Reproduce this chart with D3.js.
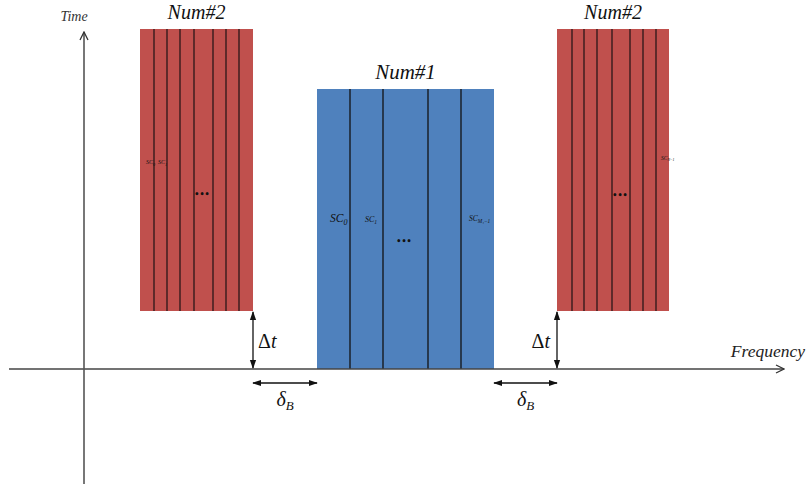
<!DOCTYPE html>
<html><head><meta charset="utf-8">
<script src="https://cdn.jsdelivr.net/npm/d3@7"></script>
<style>body{margin:0;background:#fff}svg{display:block}</style>
</head><body>
<svg id="c" width="808" height="484"></svg>
<script>
// ---- data (frequency / time units, origin at axis crossing) ----
const blockNames = ["Num#2", "Num#1", "Num#2"];
const blockFreqStart = [56, 233, 473];
const blockFreqEnd = [169, 410, 585];
const blockTimeStart = [58, 0, 58];
const blockTimeEnd = [340, 280, 340];
const blockColors = ["#c0504d", "#4f81bd", "#c0504d"];
// subcarrier boundary positions inside each block
const leftDividers = [70, 83, 96, 110, 129, 142, 155];
const centerDividers = [266, 299, 344, 377];
const rightDividers = [488, 500, 513, 528, 546, 559, 572];
const axisLabels = ["Time", "Frequency"];

const svg = d3.select("#c");
const x = d3.scaleLinear().domain([0, 700]).range([84, 784]);
const y = d3.scaleLinear().domain([0, 340]).range([369, 29]);
const serif = "Liberation Serif";

const defs = svg.append("defs");
function marker(id, open) {
  const m = defs.append("marker").attr("id", id).attr("viewBox", "0 0 10 10")
    .attr("refX", 9).attr("refY", 5).attr("markerUnits", "userSpaceOnUse")
    .attr("markerWidth", open ? 10 : 9).attr("markerHeight", open ? 12 : 9).attr("orient", "auto-start-reverse");
  if (open) m.append("path").attr("d", "M1,1 L9,5 L1,9").attr("fill", "none").attr("stroke", "#333").attr("stroke-width", 1.3);
  else m.append("path").attr("d", "M0,1.5 L10,5 L0,8.5 Z").attr("fill", "#111");
}
marker("openArr", true);
marker("fillArr", false);

// blocks
const blocks = blockNames.map((n, i) => ({name: n, f0: blockFreqStart[i], f1: blockFreqEnd[i], t0: blockTimeStart[i], t1: blockTimeEnd[i], color: blockColors[i]}));
svg.selectAll("rect.blk").data(blocks).join("rect").attr("class", "blk")
  .attr("x", d => x(d.f0)).attr("y", d => y(d.t1))
  .attr("width", d => x(d.f1) - x(d.f0)).attr("height", d => y(d.t0) - y(d.t1))
  .attr("fill", d => d.color);

function dividers(arr, b, col) {
  svg.append("g").selectAll("line").data(arr).join("line")
    .attr("x1", d => x(d)).attr("x2", d => x(d))
    .attr("y1", y(b.t1)).attr("y2", y(b.t0))
    .attr("stroke", col).attr("stroke-width", 1.3);
}
dividers(leftDividers, blocks[0], "#2a1618");
dividers(centerDividers, blocks[1], "#111");
dividers(rightDividers, blocks[2], "#2a1618");

// block titles
svg.selectAll("text.ttl").data(blocks).join("text").attr("class", "ttl")
  .attr("x", d => (x(d.f0) + x(d.f1)) / 2).attr("y", d => y(d.t1) - 10)
  .attr("text-anchor", "middle").attr("font-family", serif).attr("font-style", "italic")
  .attr("font-size", (d, i) => i === 1 ? 21 : 20).attr("fill", "#111").text(d => d.name);

// axes
svg.append("line").attr("x1", 9).attr("x2", x(700)).attr("y1", y(0)).attr("y2", y(0))
  .attr("stroke", "#444").attr("stroke-width", 1.3).attr("marker-end", "url(#openArr)");
svg.append("line").attr("x1", x(0)).attr("x2", x(0)).attr("y1", 484).attr("y2", y(337))
  .attr("stroke", "#555").attr("stroke-width", 1.6).attr("marker-end", "url(#openArr)");
svg.append("text").attr("x", 74).attr("y", 21).attr("text-anchor", "middle")
  .attr("font-family", serif).attr("font-style", "italic").attr("font-size", 14).attr("fill", "#333").text(axisLabels[0]);
svg.append("text").attr("x", 805).attr("y", 357).attr("text-anchor", "end")
  .attr("font-family", serif).attr("font-style", "italic").attr("font-size", 17.5).attr("fill", "#222").text(axisLabels[1]);

// gap annotations
const gaps = [
  {fx: blocks[0].f1, f0: blocks[0].f1, f1: blocks[1].f0, lx: 258, anchor: "start"},
  {fx: blocks[2].f0, f0: blocks[1].f1, f1: blocks[2].f0, lx: 550, anchor: "end"}
];
gaps.forEach(g => {
  svg.append("line").attr("x1", x(g.fx)).attr("x2", x(g.fx)).attr("y1", y(57)).attr("y2", y(1))
    .attr("stroke", "#111").attr("stroke-width", 1.3)
    .attr("marker-start", "url(#fillArr)").attr("marker-end", "url(#fillArr)");
  svg.append("line").attr("x1", x(g.f0)).attr("x2", x(g.f1)).attr("y1", y(-14)).attr("y2", y(-14))
    .attr("stroke", "#111").attr("stroke-width", 1.3)
    .attr("marker-start", "url(#fillArr)").attr("marker-end", "url(#fillArr)");
  svg.append("text").attr("x", g.lx).attr("y", y(21)).attr("text-anchor", g.anchor)
    .attr("font-family", serif).attr("font-size", 20).attr("fill", "#111")
    .html(`\u0394<tspan font-style="italic">t</tspan>`);
  const t = svg.append("text").attr("x", (x(g.f0) + x(g.f1)) / 2).attr("y", y(-37)).attr("text-anchor", "middle")
    .attr("font-family", serif).attr("font-style", "italic").attr("font-size", 20).attr("fill", "#111");
  t.append("tspan").text("\u03b4");
  t.append("tspan").attr("font-size", 13).attr("dy", 4).text("B");
});

// subcarrier labels
function sc(xp, yp, size, sub) {
  const t = svg.append("text").attr("x", xp).attr("y", yp).attr("font-family", serif)
    .attr("font-style", "italic").attr("font-size", size).attr("fill", "#111");
  t.append("tspan").text("SC");
  t.append("tspan").attr("font-size", size * 0.7).attr("dy", size * 0.25).text(sub);
}
sc(330, 222, 11.5, "0");
sc(365, 222, 8, "1");
sc(469, 221, 7.5, "M\u2081\u22121");
sc(146, 164, 6, "0");
sc(158, 164, 6, "1");
sc(661, 160, 5.5, "N\u22121");

// ellipses
[[404, 244], [202, 197], [620, 198]].forEach(p => {
  svg.append("text").attr("x", p[0]).attr("y", p[1]).attr("text-anchor", "middle")
    .attr("font-family", "DejaVu Sans").attr("font-weight", "bold").attr("font-size", 8).attr("fill", "#111").text("\u2022\u2022\u2022");
});
</script>
</body></html>
